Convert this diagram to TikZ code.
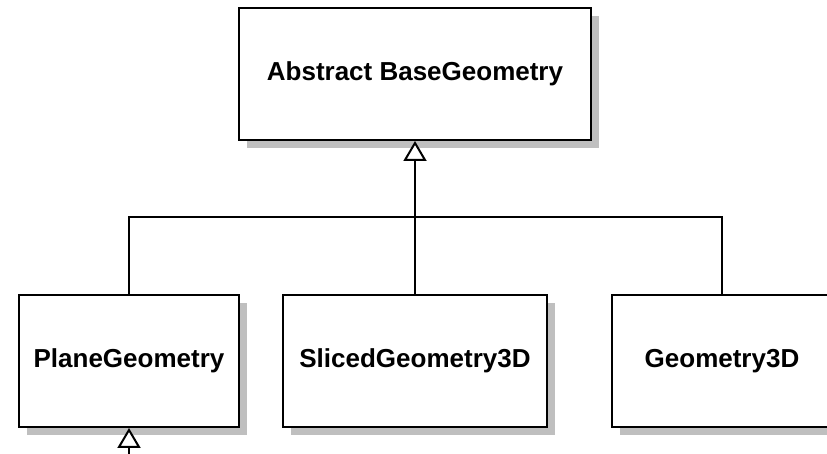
\documentclass[tikz,border=0pt]{standalone}
\usepackage{fontspec}
\setmainfont{Liberation Sans}
\usetikzlibrary{arrows.meta,shadows}
\tikzset{
  cls/.style={draw=black, line width=2pt, fill=white, rectangle, inner sep=0pt,
    minimum height=132pt, font=\fontsize{26}{31}\selectfont\bfseries,
    general shadow={fill=black!25, shadow xshift=8pt, shadow yshift=-8pt}},
  link/.style={draw=black, line width=2pt},
  inh/.style={link, -{Triangle[open, fill=white, width=23pt, length=20pt, line width=2pt]}}
}
\begin{document}
\begin{tikzpicture}[x=1pt,y=1pt]
\useasboundingbox (0,0) rectangle (827,454);
\node[cls, minimum width=352pt] (top) at (415,380) {Abstract BaseGeometry};
\node[cls, minimum width=220pt] (plane) at (129,93) {PlaneGeometry};
\node[cls, minimum width=264pt] (sliced) at (415,93) {SlicedGeometry3D};
\node[cls, minimum width=220pt] (geo) at (722,93) {Geometry3D};
\coordinate (j) at (415,237);
\coordinate (b) at (129,-2);
\draw[link] (plane.north) |- (j);
\draw[link] (geo.north) |- (j);
\draw[inh] (sliced.north) -- (top.south);
\draw[inh] (b) -- (plane.south);
\end{tikzpicture}
\end{document}
